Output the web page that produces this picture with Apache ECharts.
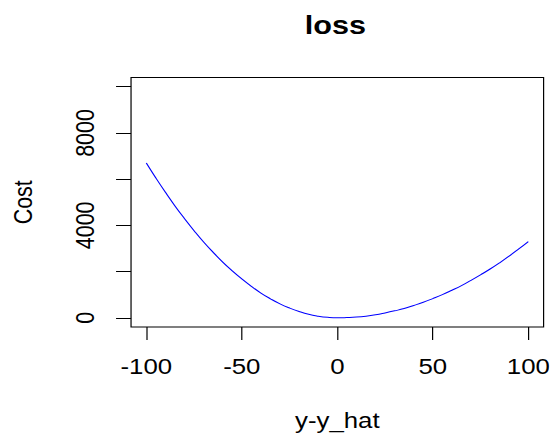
<!DOCTYPE html>
<html>
<head>
<meta charset="utf-8">
<script src="https://cdn.jsdelivr.net/npm/echarts@6/dist/echarts.min.js"></script>
<style>
html,body{margin:0;padding:0;background:#fff;overflow:hidden;}
#wrap{width:550px;height:433px;overflow:hidden;}
#c{width:458.33px;height:433px;transform:scaleX(1.2);transform-origin:0 0;}
</style>
</head>
<body>
<div id="wrap"><div id="c"></div></div>
<script>
// Data
const xValues = [-100,-95,-90,-85,-80,-75,-70,-65,-60,-55,-50,-45,-40,-35,-30,-25,-20,-15,-10,-5,0,5,10,15,20,25,30,35,40,45,50,55,60,65,70,75,80,85,90,95,100];
const costValues = [6700,6050,5430,4840,4290,3770,3280,2830,2410,2030,1680,1360,1070,820,600,420,270,150,70,20,0,10,30,70,130,210,300,400,530,670,830,1000,1190,1390,1620,1860,2110,2380,2670,2980,3300];
const xTicks = [-100,-50,0,50,100];
const yTicks = [0,2000,4000,6000,8000,10000];
const yTickLabels = [0,4000,8000];
const titleText = 'loss';
const xTitle = 'y-y_hat';
const yTitle = 'Cost';

const chart = echarts.init(document.getElementById('c'), null, {renderer:'svg'});
const font = 'Liberation Sans, Arial, sans-serif';
chart.setOption({
  animation:false,
  backgroundColor:'#fff',
  title:{text:titleText,left:249,top:7,textStyle:{fontFamily:font,fontWeight:'bold',fontSize:25.5,color:'#000'}},
  grid:{left:109.2,right:5,top:77.5,bottom:106,show:true,borderColor:'#000',borderWidth:1,backgroundColor:'transparent',
    containLabel:false,outerBoundsMode:'none'},
  xAxis:{type:'value',min:-108,max:108,
    name:xTitle,nameLocation:'middle',nameGap:83,
    nameTextStyle:{fontFamily:font,fontSize:21.5,color:'#000'},
    axisLine:{show:false,onZero:false},
    axisTick:{show:true,length:13,customValues:xTicks,lineStyle:{color:'#000',width:1}},
    axisLabel:{customValues:xTicks,margin:29,fontFamily:font,fontSize:21.5,color:'#000',formatter:v=>String(v)},
    splitLine:{show:false}},
  yAxis:{type:'value',min:-400,max:10400,
    name:yTitle,nameLocation:'middle',nameGap:79,nameRotate:90,
    nameTextStyle:{fontFamily:font,fontSize:21.5,color:'#000'},
    axisLine:{show:false,onZero:false},
    axisTick:{show:true,length:12.5,customValues:yTicks,lineStyle:{color:'#000',width:1}},
    axisLabel:{customValues:yTickLabels,rotate:90,margin:27,fontFamily:font,fontSize:21.5,color:'#000',formatter:v=>String(v)},
    splitLine:{show:false}},
  series:[{type:'line',data:xValues.map((x,i)=>[x,costValues[i]]),smooth:true,symbol:'none',
    lineStyle:{color:'#0000ff',width:1}}]
});
</script>
</body>
</html>
